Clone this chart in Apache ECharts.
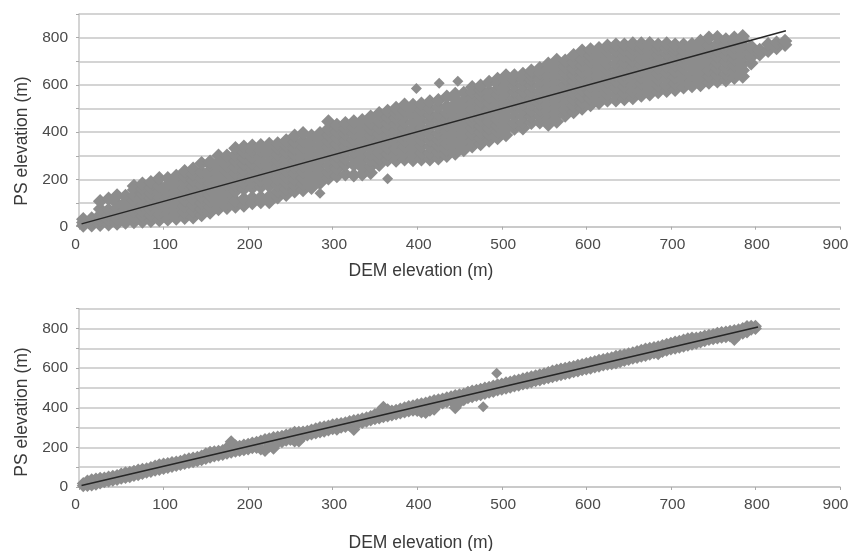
<!DOCTYPE html>
<html><head><meta charset="utf-8">
<style>html,body{margin:0;padding:0;background:#fff}#c{width:848px;height:551px}</style>
<script src="https://cdn.jsdelivr.net/npm/echarts@6/dist/echarts.min.js"></script>
</head><body><div id="c"></div>
<script>
const xTitle='DEM elevation (m)';
const yTitle='PS elevation (m)';
const topX=[5,15,25,35,45,55,65,75,85,95,105,115,125,135,145,155,165,175,185,195,205,215,225,235,245,255,265,275,285,295,305,315,325,335,345,355,365,375,385,395,405,415,425,435,445,455,465,475,485,495,505,515,525,535,545,555,565,575,585,595,605,615,625,635,645,655,665,675,685,695,705,715,725,735,745,755,765,775,785,795,805,815,825,835];
const topY=[
[5,18,32],[6,20,35],[8,28,50,75,108],[10,30,52,72,118],[14,34,56,78,98,132],[18,40,62,85,105,130],
[20,42,65,88,110,132,155,172],[22,45,68,92,115,138,160,182],[25,48,72,96,120,142,165,188],[28,52,76,100,124,148,172,205],
[32,56,80,104,128,152,178,205],[35,60,84,108,132,158,185,215],[38,62,88,112,138,164,190,212,235],[40,66,92,118,144,170,196,222,245],
[50,75,100,126,152,178,204,230,268],[60,84,108,134,160,186,212,238,262,275],[75,98,122,148,172,198,224,250,272,300],[80,104,130,155,180,206,232,258,282,300],
[85,110,150,175,200,226,252,278,304,332],[90,118,160,186,212,238,264,290,315,338],[100,122,165,190,216,242,268,294,320,342],[105,125,168,194,220,246,272,298,322,345],
[105,128,172,198,224,250,276,302,328,350],[125,150,176,202,228,254,280,306,332,352],[135,160,186,212,238,264,290,316,342,365],[150,175,200,226,252,278,304,330,358,385],
[155,180,206,232,258,284,310,336,362,395],[165,190,215,240,266,292,318,344,368,385],[185,210,235,262,288,314,340,366,395],[205,230,258,284,310,336,362,388,414,445],
[215,245,272,298,324,350,376,402,430],[222,262,288,314,340,366,392,416,438],[218,262,290,316,342,368,394,420,445],[222,250,278,304,330,356,382,408,432,450],
[228,255,282,308,334,360,386,412,438,465],[262,288,314,340,366,392,418,444,480],[282,308,334,360,386,412,438,464,490],[280,305,330,356,382,408,434,460,480,502],
[285,312,338,364,390,416,442,468,492,516],[282,308,334,360,386,412,440,466,490,515],[285,312,340,366,392,418,445,470,495,520],[285,312,338,366,392,420,446,472,500,530],
[290,316,342,368,394,422,450,476,506,535],[300,326,352,378,404,430,456,482,510,550],[310,336,362,388,414,440,466,492,520,540,562],[325,350,376,402,428,454,480,506,532,566],
[340,366,392,418,444,470,496,522,548,570,590],[350,374,400,426,452,478,504,530,556,578,596],[365,392,418,444,470,496,522,548,572,612],[375,402,428,454,480,506,532,558,584,606,625],
[388,414,440,466,492,518,544,570,596,620,640],[415,440,466,492,518,544,570,596,622,640],[417,442,468,494,520,546,572,598,624,646],[440,466,492,518,544,570,596,622,642,660],
[442,468,494,520,546,572,598,624,650,670],[432,458,484,510,536,562,588,614,640,668,690],[445,472,498,524,550,576,602,628,654,680,705],[470,496,522,548,574,600,626,652,678,702],
[485,512,538,564,590,616,642,668,696,725],[500,526,552,578,604,630,656,682,708,745],[515,542,568,594,620,646,672,698,724,750],[525,552,578,604,630,656,682,708,734,755],
[535,560,586,612,638,664,690,716,742,766],[535,562,588,614,640,666,692,718,744,770],[540,566,592,618,644,670,696,722,748,770],[545,572,598,624,650,676,702,728,754,775],
[555,580,606,632,658,684,710,736,756,775],[560,586,612,638,664,690,716,742,760,776],[570,596,622,648,674,700,726,752,770],[575,600,626,652,678,704,730,756,775],
[580,606,632,658,684,710,736,752,770],[590,616,642,668,694,720,746,770],[595,620,646,672,698,724,750,772],[600,626,652,678,704,730,758,786],
[610,636,662,688,714,740,768,800],[615,642,668,694,720,746,772,802],[620,646,672,698,724,750,770,792],[630,656,682,708,734,760,782,800],
[636,662,690,716,742,768,790,806],[692,718,742,762],[730,748],[745,772],[756,778],[770,786]
];
const topOutliers=[[399,585],[426,607],[448,615],[365,203],[285,142]];
const bottomX=[5,10,15,20,25,30,35,40,45,50,55,60,65,70,75,80,85,90,95,100,105,110,115,120,125,130,135,140,145,150,155,160,165,170,175,180,185,190,195,200,205,210,215,220,225,230,235,240,245,250,255,260,265,270,275,280,285,290,295,300,305,310,315,320,325,330,335,340,345,350,355,360,365,370,375,380,385,390,395,400,405,410,415,420,425,430,435,440,445,450,455,460,465,470,475,480,485,490,495,500,505,510,515,520,525,530,535,540,545,550,555,560,565,570,575,580,585,590,595,600,605,610,615,620,625,630,635,640,645,650,655,660,665,670,675,680,685,690,695,700,705,710,715,720,725,730,735,740,745,750,755,760,765,770,775,780,785,790,795,800];
const bottomHigh=[18,30,36,40,44,46,50,54,58,66,72,75,80,86,90,92,98,106,112,116,118,124,126,130,138,142,146,150,156,168,176,178,180,184,198,228,208,206,212,216,222,226,232,240,244,250,252,256,262,268,276,276,278,282,288,294,300,304,308,314,318,320,324,330,336,340,344,350,356,366,378,402,390,384,388,394,400,406,410,416,420,424,430,436,440,444,450,456,462,466,470,478,484,488,494,500,504,510,516,520,526,530,536,540,546,552,556,562,566,572,578,586,590,596,600,604,608,614,618,624,628,634,640,644,648,652,660,664,668,672,678,684,690,696,700,704,708,714,720,726,732,736,742,748,752,752,756,762,766,770,776,780,782,786,790,794,800,810,812,812];
const bottomLow=[6,8,10,14,20,26,30,34,38,44,48,52,58,62,68,74,78,84,88,94,98,104,108,114,118,124,128,132,138,144,150,156,160,164,170,176,180,184,188,192,198,200,192,184,206,196,224,228,236,240,232,232,256,262,268,272,278,282,288,294,292,302,306,312,290,322,326,332,338,344,348,354,358,364,368,374,378,384,388,386,378,376,388,392,420,424,430,436,400,428,440,450,456,462,466,472,478,482,490,494,498,504,510,514,520,524,530,536,540,546,552,556,562,566,572,576,582,586,592,596,600,606,610,616,620,622,626,632,638,644,650,654,660,664,670,676,672,684,690,696,700,706,710,716,720,726,732,738,744,748,752,756,758,762,744,770,776,782,796,800];
const bottomOutliers=[[494,574],[478,405]];
const topFit=[[3,12],[836,829]];
const bottomFit=[[3,8],[803,808]];

const flatTop=[];
topX.forEach((x,i)=>topY[i].forEach(y=>flatTop.push([x,y])));
const flatBottom=[];
bottomX.forEach((x,i)=>{flatBottom.push([x,bottomLow[i]]);flatBottom.push([x,bottomHigh[i]]);});

const textCol='#4a4a4a', gridCol='#c6c6c6';
const FF='"Liberation Sans",Arial,sans-serif';
const tickText={color:textCol,fontFamily:FF,fontSize:15.5};
function xAxis(i){return {gridIndex:i,type:'value',min:0,max:900,interval:100,
  axisLine:{show:true,lineStyle:{color:gridCol,width:1.5}},
  axisTick:{show:true,length:3,lineStyle:{color:'#aaaaaa',width:1}},
  splitLine:{show:false},
  axisLabel:{...tickText,margin:10,showMinLabel:true,showMaxLabel:true,
    formatter:v=>v===0?'{a|0}':v===900?'{b|900}':'{c|'+v+'}',
    rich:{a:{...tickText,padding:[0,7,0,0]},b:{...tickText,padding:[0,9,0,0]},c:{...tickText,padding:[0,0,0,3]}}}};}
function yAxis(i){return {gridIndex:i,type:'value',min:0,max:900,interval:100,
  axisLine:{show:true,lineStyle:{color:gridCol,width:1.5}},
  axisTick:{show:true,length:3,lineStyle:{color:'#aaaaaa',width:1}},
  splitLine:{show:true,lineStyle:{color:gridCol,width:1.5}},
  axisLabel:{...tickText,margin:11,padding:[4,0,0,0],formatter:v=>v%200===0?String(v):''}};}
function pts(i,d,s){return {type:'scatter',xAxisIndex:i,yAxisIndex:i,data:d,symbol:'diamond',symbolSize:s,
  itemStyle:{color:'#8c8c8c',opacity:1},silent:true,z:2};}
function fit(i,d){return {type:'line',xAxisIndex:i,yAxisIndex:i,data:d,symbol:'none',
  lineStyle:{color:'#262626',width:1.5},silent:true,z:3};}
function label(t,x,y,rot){return {type:'text',x:x,y:y,rotation:rot,silent:true,
  style:{text:t,fill:'#3a3a3a',font:'17.5px '+FF,textAlign:'center',textVerticalAlign:'middle'}};}
const chart=echarts.init(document.getElementById('c'),null,{renderer:'canvas'});
chart.setOption({animation:false,backgroundColor:'#fff',
  grid:[{left:79,right:8,top:14,height:212.7,outerBoundsMode:'none'},{left:79,right:8,top:308.7,height:178.3,outerBoundsMode:'none'}],
  xAxis:[xAxis(0),xAxis(1)],
  yAxis:[yAxis(0),yAxis(1)],
  series:[pts(0,flatTop,14.5),pts(0,topOutliers,11),fit(0,topFit),pts(1,flatBottom,13),pts(1,bottomOutliers,11),fit(1,bottomFit)],
  graphic:[label(xTitle,421,271,0),label(xTitle,421,543,0),label(yTitle,22,141,Math.PI/2),label(yTitle,22,412,Math.PI/2)]
});
</script></body></html>
